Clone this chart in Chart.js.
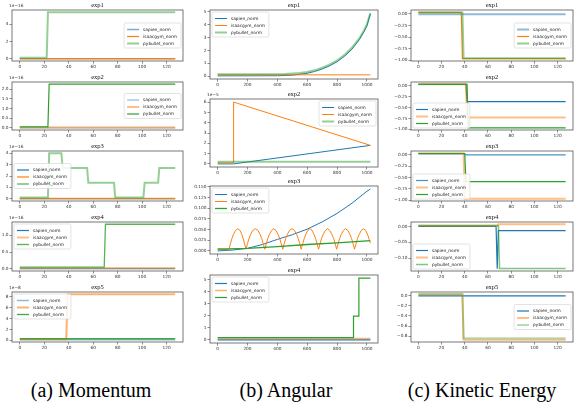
<!DOCTYPE html>
<html>
<head>
<meta charset="utf-8">
<script src="https://cdn.jsdelivr.net/npm/chart.js@4.4.1/dist/chart.umd.min.js"></script>
<style>
  body { margin: 0; background: #fff; width: 586px; height: 403px; position: relative; overflow: hidden; }
  canvas { position: absolute; }
  .caption { position: absolute; top: 378px; font-family: "Liberation Serif", "Times New Roman", "DejaVu Serif", serif; font-size: 20px; line-height: 24px; color: #000; white-space: nowrap; transform: translateX(-50%); }
</style>
</head>
<body>
<div class="caption" style="left:91px">(a) Momentum</div>
<div class="caption" style="left:286px">(b) Angular</div>
<div class="caption" style="left:482px">(c) Kinetic Energy</div>
<script>
const seriesNames = ["sapien_norm", "isaacgym_norm", "pybullet_norm"];
const colors = ["#1f77b4", "#ff7f0e", "#2ca02c"];
const expTitles = ["exp1", "exp2", "exp3", "exp4", "exp5"];

const stepTicks = [0, 20, 40, 60, 80, 100, 120];
const angTicks = [0, 200, 400, 600, 800, 1000];
const stepXLim = [-6.35, 133.35];
const angXLim = [-51, 1074];

// (a) Momentum, one entry per experiment, [step, value]
const momSapien = [
    [[0, 0], [127, 0]],
    [[0, 0], [127, 0]],
    [[0, 0], [127, 0]],
    [[0, 0], [127, 0]],
    [[0, 0.1], [127, 0.1]]
];
const momIsaac = [
    [[0, 0], [127, 0]],
    [[0, 0.02], [127, 0.02]],
    [[0, 0.02], [127, 0.02]],
    [[0, 0.02], [127, 0.02]],
    [[0, 0.2], [38, 0.2], [39, 8.45], [127, 8.45]]
];
const momPybullet = [
    [[0, 0.1], [22, 0.1], [23, 5.4], [127, 5.4]],
    [[0, 0.05], [23, 0.05], [24, 2.27], [127, 2.27]],
    [[0, 0.1], [23, 0.1], [24, 4.0], [34, 4.0], [35, 2.7], [55, 2.7], [56, 1.4], [77, 1.4], [78, 0.1], [101, 0.1], [102, 1.4], [113, 1.4], [114, 2.7], [127, 2.7]],
    [[0, 0.05], [69, 0.05], [70, 1.33], [127, 1.33]],
    [[0, 0.28], [127, 0.28]]
];
const momYTicks = [[0, 2, 4], [0, 0.5, 1, 1.5, 2], [0, 1, 2, 3, 4], [0, 0.5, 1], [0, 2, 4, 6, 8]];
const momDecimals = [0, 1, 0, 1, 0];
const momOffsets = ["1e\u221216", "1e\u221216", "1e\u221216", "1e\u221216", "1e\u22128"];

// (b) Angular
const angSapien = [
    [[0, 0.02], [400, 0.03], [500, 0.07], [600, 0.22], [650, 0.36], [700, 0.55], [750, 0.8], [800, 1.12], [850, 1.55], [900, 2.1], [950, 2.85], [980, 3.45], [1000, 3.9], [1023, 4.85]],
    [[0, 0], [105, 0], [1023, 1.8]],
    [[0, 0], [100, 0.002], [200, 0.006], [300, 0.015], [400, 0.027], [500, 0.038], [600, 0.051], [700, 0.068], [800, 0.088], [900, 0.112], [1000, 0.140], [1023, 0.145]],
    [[0, 0], [1023, 0]]
];
const angIsaac = [
    [[0, 0.1], [1023, 0.1]],
    [[0, 0.1], [106, 0.1], [107, 6.0], [1023, 1.8]],
    [[0, 0.003], [75, 0.003], [85, 0.016], [95, 0.028], [105, 0.038], [120, 0.048], [135, 0.052], [150, 0.048], [163, 0.038], [172, 0.028], [181, 0.016], [190, 0.004],
     [200, 0.017], [210, 0.029], [220, 0.038], [235, 0.048], [252, 0.052], [270, 0.048], [285, 0.038], [295, 0.029], [305, 0.017], [316, 0.004],
     [326, 0.017], [336, 0.029], [346, 0.038], [361, 0.048], [376, 0.052], [391, 0.048], [406, 0.038], [416, 0.029], [426, 0.017], [436, 0.004],
     [446, 0.017], [456, 0.029], [466, 0.038], [481, 0.048], [498, 0.052], [515, 0.048], [530, 0.038], [540, 0.029], [550, 0.017], [560, 0.004],
     [570, 0.017], [580, 0.029], [590, 0.038], [603, 0.048], [618, 0.052], [633, 0.048], [646, 0.038], [656, 0.029], [666, 0.017], [676, 0.004],
     [686, 0.017], [696, 0.029], [706, 0.038], [721, 0.048], [736, 0.052], [751, 0.048], [766, 0.038], [777, 0.029], [787, 0.017], [797, 0.004],
     [807, 0.017], [817, 0.029], [827, 0.038], [842, 0.048], [857, 0.052], [872, 0.048], [887, 0.038], [897, 0.029], [907, 0.017], [917, 0.004],
     [927, 0.017], [937, 0.029], [947, 0.038], [962, 0.048], [977, 0.052], [992, 0.048], [1007, 0.036], [1015, 0.027], [1023, 0.018]],
    [[0, 0.11], [1023, 0.11]]
];
const angPybullet = [
    [[0, 0.15], [450, 0.17], [550, 0.25], [600, 0.32], [650, 0.45], [700, 0.65], [750, 0.9], [800, 1.22], [850, 1.65], [900, 2.22], [950, 2.95], [980, 3.55], [1000, 4.05], [1023, 4.9]],
    [[0, 0.2], [1023, 0.2]],
    [[0, 0.005], [75, 0.005], [200, 0.006], [400, 0.010], [600, 0.015], [800, 0.019], [1023, 0.024]],
    [[0, 0.19], [908, 0.19], [910, 1.97], [944, 1.97], [946, 5.14], [1023, 5.14]]
];
const angYTicks = [[0, 1, 2, 3, 4, 5], [0, 1, 2, 3, 4, 5, 6], [0, 0.025, 0.05, 0.075, 0.1, 0.125, 0.15], [0, 1, 2, 3, 4, 5]];
const angDecimals = [0, 0, 3, 0];
const angOffsets = ["", "1e\u22125", "", ""];

// (c) Kinetic Energy
const keSapien = [
    [[0, -0.005], [127, -0.005]],
    [[0, 0.035], [41, 0.035], [42, -0.36], [127, -0.36]],
    [[0, 0.02], [40, 0.02], [41, 0.0], [127, 0.0]],
    [[0, 0.0], [67, 0.0], [68, -0.134], [69, -0.013], [127, -0.013]],
    [[0, 0.0], [127, 0.0]]
];
const keIsaac = [
    [[0, 0.035], [37, 0.035], [38, -0.965], [127, -0.965]],
    [[0, 0.04], [41, 0.04], [42, -0.73], [127, -0.73]],
    [[0, 0.035], [39, 0.035], [40, -0.965], [127, -0.965]],
    [[0, 0.002], [68, 0.002], [69, 0.007], [127, 0.007]],
    [[0, 0.03], [38, 0.03], [39, -0.87], [127, -0.87]]
];
const kePybullet = [
    [[0, 0.03], [38, 0.03], [39, -0.955], [127, -0.955]],
    [[0, 0.035], [42, 0.035], [43, -0.965], [127, -0.965]],
    [[0, 0.03], [40, 0.03], [41, -0.59], [127, -0.59]],
    [[0, 0.003], [69, 0.003], [70, -0.133], [127, -0.133]],
    [[0, 0.03], [38, 0.03], [39, -0.84], [127, -0.84]]
];
const keYTicks = [[0, -0.25, -0.5, -0.75, -1], [0, -0.25, -0.5, -0.75, -1], [0, -0.25, -0.5, -0.75, -1], [0, -0.05, -0.1], [0, -0.2, -0.4, -0.6, -0.8]];
const keDecimals = [2, 2, 2, 2, 1];

// looks: [width, alpha] for sapien, isaacgym, pybullet
const momStyles = [
    [[1.5, 0.6], [1.2, 1], [2, 0.5]],
    [[2, 0.3], [2, 0.5], [1.2, 1]],
    [[1.2, 1], [1.5, 0.8], [2, 0.5]],
    [[1.2, 1], [2, 0.5], [1.3, 0.8]],
    [[1.5, 0.5], [2, 0.6], [1.3, 0.9]]
];
const angStyles = [
    [[1, 1], [1, 1], [2, 0.5]],
    [[1, 1], [1, 1], [2, 0.5]],
    [[1, 1], [1, 1], [1.3, 1]],
    [[1.2, 1], [1.5, 0.6], [1.2, 1]]
];
const keStyles = [
    [[2, 0.5], [1.2, 1], [2, 0.5]],
    [[1.2, 1], [2, 0.5], [1.2, 1]],
    [[1.2, 0.8], [2, 0.5], [1.2, 1]],
    [[1.2, 1], [2, 0.5], [1.5, 0.6]],
    [[1.2, 1], [2, 0.5], [2, 0.35]]
];
const momLegend = ["center right", "center right", "center left", "upper left", "upper left"];
const angLegend = ["upper left", "upper right", "upper left", "upper left"];
const keLegend = ["center right", "lower left", "lower left", "lower left", "center right"];

const rowsAC = [[10, 61], [82, 130], [151, 201], [222, 271], [292, 342]];
const rowsB = [[10, 79], [99, 167], [186, 254], [275, 343]];

const serifFont = '"Liberation Serif", "Times New Roman", "DejaVu Serif", serif';

const withAlpha = (hex, a) => {
    const n = parseInt(hex.slice(1), 16);
    return `rgba(${(n >> 16) & 255},${(n >> 8) & 255},${n & 255},${a})`;
};

const decorations = {
    id: "decorations",
    afterDatasetsDraw(chart, args, opts) {
        const { ctx, chartArea: a } = chart;
        ctx.save();
        ctx.strokeStyle = "#555";
        ctx.lineWidth = 0.8;
        ctx.strokeRect(a.left, a.top, a.right - a.left, a.bottom - a.top);

        ctx.fillStyle = "#111";
        ctx.font = `6.5px ${serifFont}`;
        ctx.textAlign = "center";
        ctx.textBaseline = "alphabetic";
        ctx.fillText(opts.title, (a.left + a.right) / 2, a.top - 3);

        if (opts.offset) {
            ctx.font = '4.3px "DejaVu Sans"';
            ctx.textAlign = "left";
            ctx.fillStyle = "#333";
            ctx.fillText(opts.offset, a.left - 3, a.top - 3);
        }

        // legend box inside the axes
        const fs = 4.3, rowH = 7.0, sampleW = 12;
        ctx.font = `${fs}px "DejaVu Sans"`;
        const textW = Math.max(...seriesNames.map(n => ctx.measureText(n).width));
        const lw = 3 + sampleW + 4 + textW + 4;
        const lh = 3 + rowH * 3 + 1;
        const pad = 2;
        const loc = opts.legend;
        let x = a.left + pad;
        let y = a.top + pad;
        if (loc.includes("right")) x = a.right - pad - lw;
        if (loc.startsWith("center")) y = (a.top + a.bottom) / 2 - lh / 2;
        if (loc.startsWith("lower")) y = a.bottom - pad - lh;
        ctx.beginPath();
        ctx.roundRect(x, y, lw, lh, 1.5);
        ctx.fillStyle = "rgba(255,255,255,0.85)";
        ctx.fill();
        ctx.strokeStyle = "#d0d0d0";
        ctx.lineWidth = 0.6;
        ctx.stroke();
        ctx.textBaseline = "middle";
        ctx.textAlign = "left";
        seriesNames.forEach((name, i) => {
            const cy = y + 3 + rowH * (i + 0.5);
            const [w, al] = opts.styles[i];
            ctx.strokeStyle = withAlpha(colors[i], al);
            ctx.lineWidth = w;
            ctx.beginPath();
            ctx.moveTo(x + 3, cy);
            ctx.lineTo(x + 3 + sampleW, cy);
            ctx.stroke();
            ctx.fillStyle = "#222";
            ctx.fillText(name, x + 3 + sampleW + 4, cy);
        });
        ctx.restore();
    }
};

const makeChart = (p) => {
    const padTop = 10, xH = 10, padR = 7;
    const boxW = p.box[2] - p.box[0];
    const boxH = p.box[3] - p.box[1];
    const canvas = document.createElement("canvas");
    canvas.width = p.yW + boxW + padR;
    canvas.height = padTop + boxH + xH;
    canvas.style.left = (p.box[0] - p.yW) + "px";
    canvas.style.top = (p.box[1] - padTop) + "px";
    document.body.appendChild(canvas);

    const allY = p.series.flat().map(pt => pt[1]);
    const lo = Math.min(...allY), hi = Math.max(...allY);
    const margin = (hi - lo) * 0.05;

    const tickFont = { family: "DejaVu Sans", size: 4.3 };
    const tickGrid = { display: true, drawOnChartArea: false, drawTicks: true, tickLength: 2.5, color: "#444", lineWidth: 0.6 };

    new Chart(canvas, {
        type: "line",
        data: {
            datasets: p.series.map((pts, i) => ({
                label: seriesNames[i],
                data: pts.map(([x, y]) => ({ x, y })),
                borderColor: withAlpha(colors[i], p.styles[i][1]),
                borderWidth: p.styles[i][0],
                pointRadius: 0,
                tension: 0,
                order: 3 - i
            }))
        },
        options: {
            responsive: false,
            animation: false,
            layout: { padding: { top: padTop, right: padR, left: 0, bottom: 0 } },
            scales: {
                x: {
                    type: "linear",
                    min: p.xLim[0],
                    max: p.xLim[1],
                    afterBuildTicks: (s) => { s.ticks = p.xTicks.map(v => ({ value: v })); },
                    afterFit: (s) => { s.height = xH; },
                    border: { display: false },
                    grid: tickGrid,
                    ticks: { font: tickFont, color: "#333", padding: 1, maxRotation: 0, autoSkip: false, callback: (v) => String(v) }
                },
                y: {
                    min: lo - margin,
                    max: hi + margin,
                    afterBuildTicks: (s) => { s.ticks = p.yTicks.map(v => ({ value: v })); },
                    afterFit: (s) => { s.width = p.yW; },
                    border: { display: false },
                    grid: tickGrid,
                    ticks: { font: tickFont, color: "#333", padding: 1, autoSkip: false, callback: (v) => Number(v).toFixed(p.dec).replace("-", "\u2212") }
                }
            },
            plugins: {
                legend: { display: false },
                tooltip: { enabled: false },
                decorations: { title: p.title, offset: p.offset, legend: p.legend, styles: p.styles }
            }
        },
        plugins: [decorations]
    });
};

momSapien.forEach((_, k) => {
    makeChart({
        box: [12, rowsAC[k][0], 183, rowsAC[k][1]], yW: 12,
        series: [momSapien[k], momIsaac[k], momPybullet[k]],
        styles: momStyles[k], xLim: stepXLim, xTicks: stepTicks,
        yTicks: momYTicks[k], dec: momDecimals[k], title: expTitles[k],
        offset: momOffsets[k], legend: momLegend[k]
    });
});

angSapien.forEach((_, k) => {
    makeChart({
        box: [210, rowsB[k][0], 378, rowsB[k][1]], yW: 16,
        series: [angSapien[k], angIsaac[k], angPybullet[k]],
        styles: angStyles[k], xLim: angXLim, xTicks: angTicks,
        yTicks: angYTicks[k], dec: angDecimals[k], title: expTitles[k],
        offset: angOffsets[k], legend: angLegend[k]
    });
});

keSapien.forEach((_, k) => {
    makeChart({
        box: [411, rowsAC[k][0], 573, rowsAC[k][1]], yW: 19,
        series: [keSapien[k], keIsaac[k], kePybullet[k]],
        styles: keStyles[k], xLim: stepXLim, xTicks: stepTicks,
        yTicks: keYTicks[k], dec: keDecimals[k], title: expTitles[k],
        offset: "", legend: keLegend[k]
    });
});
</script>
</body>
</html>
